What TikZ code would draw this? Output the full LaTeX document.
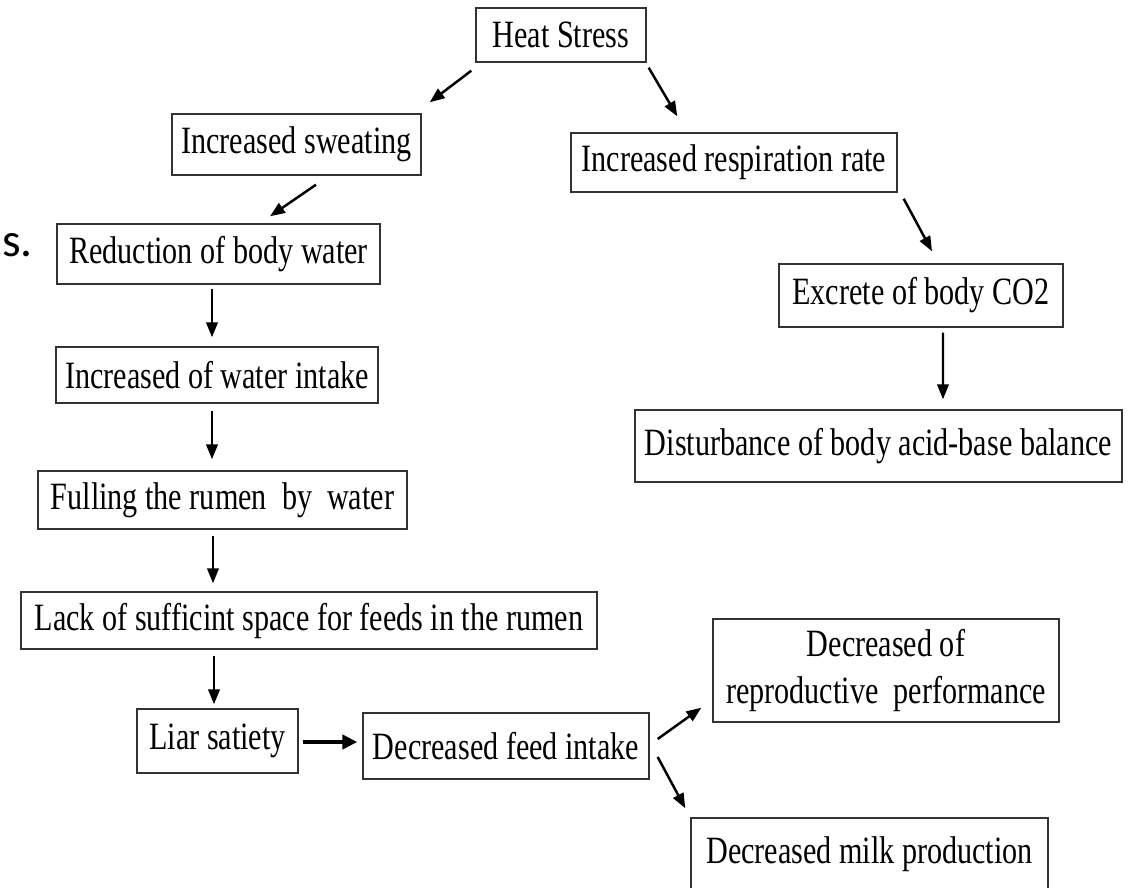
\documentclass[tikz,border=0pt]{standalone}
\usepackage{fontspec}
\setmainfont{Liberation Serif}[FakeStretch=0.78]
\newfontfamily\cutfont{Carlito}
\usetikzlibrary{arrows.meta, calc}

\begin{document}
\begin{tikzpicture}[x=0.02cm, y=-0.02cm,
	box/.style={shape=rectangle, draw=black!80, line width=0.8pt, inner sep=0pt, align=center, font=\fontsize{22}{27}\selectfont},
	arr/.style={-{Triangle[length=8.5pt, width=6.5pt]}, line width=1.4pt},
	fatarr/.style={-{Triangle[length=8.5pt, width=8pt]}, line width=2.4pt}]
	\useasboundingbox (0, 0) rectangle (1134, 887);
	\clip (0, 0) rectangle (1134, 887);
	% Boxes:
	\node[box, minimum width=3.40cm, minimum height=1.08cm] (heat) at (561, 35) {Heat Stress};
	\node[box, minimum width=4.98cm, minimum height=1.22cm] (sweat) at (296.5, 144.5) {Increased sweating};
	\node[box, minimum width=6.52cm, minimum height=1.18cm] (resp) at (734, 162.5) {Increased respiration rate};
	\node[box, minimum width=5.68cm, minimum height=1.26cm] (excr) at (921, 295.5) {Excrete of body CO2};
	\node[box, minimum width=9.74cm, minimum height=1.44cm] (dist) at (878.5, 446) {Disturbance of body acid-base balance};
	\node[box, minimum width=6.46cm, minimum height=1.20cm] (red) at (218.5, 254) {Reduction of body water};
	\node[box, minimum width=6.44cm, minimum height=1.12cm] (water) at (217, 375) {Increased of water intake};
	\node[box, minimum width=7.38cm, minimum height=1.16cm] (full) at (222.5, 500) {Fulling the rumen\ \ by\ \ water};
	\node[box, minimum width=11.52cm, minimum height=1.14cm] (lack) at (309, 620.5) {Lack of sufficint space for feeds in the rumen};
	\node[box, minimum width=3.22cm, minimum height=1.28cm] (liar) at (217.5, 741) {Liar satiety};
	\node[box, minimum width=5.72cm, minimum height=1.32cm] (feed) at (506, 746) {Decreased feed intake};
	\node[box, minimum width=6.92cm, minimum height=2.06cm] (repro) at (886, 670.5) {Decreased of\\reproductive\ \ performance};
	\node[box, minimum width=7.14cm, minimum height=1.44cm] (milk) at (869.5, 854) {Decreased milk production};
	\node[anchor=base west, inner sep=0pt, font=\cutfont\fontsize{27}{27}\selectfont] (cut) at (2, 256) {s.};
	% Arrows:
	\draw[arr] ($(heat.south west)+(-4, 8)$) -- ($(sweat.north east)+(8, -11)$);
	\draw[arr] ($(heat.south east)+(2, 5)$) -- ($(resp.north west)+(107, -16)$);
	\draw[arr] ($(sweat.south)+(19.5, 9)$) -- ($(red.north)+(51.5, -7)$);
	\draw[arr] ($(resp.south east)+(6, 6)$) -- ($(excr.north)+(11, -12)$);
	\draw[arr] ($(excr.south)+(22, 5)$) -- ($(dist.north)+(64.5, -10)$);
	\draw[arr] ($(red.south)+(-6.5, 4)$) -- ($(water.north)+(-5, -9)$);
	\draw[arr] ($(water.south)+(-5, 7)$) -- ($(full.north)+(-10.5, -11)$);
	\draw[arr] ($(full.south)+(-9.5, 6)$) -- ($(lack.north)+(-96, -8)$);
	\draw[arr] ($(lack.south)+(-95, 6)$) -- ($(liar.north)+(-3.5, -4)$);
	\draw[fatarr] ($(liar.east)+(4, 1)$) -- ($(feed.west)+(-5, -4)$);
	\draw[arr] ($(feed.east)+(8, -7)$) -- ($(repro.south west)+(-11, -15)$);
	\draw[arr] ($(feed.east)+(8, 11)$) -- ($(milk.north west)+(-5, -9)$);
\end{tikzpicture}
\end{document}
